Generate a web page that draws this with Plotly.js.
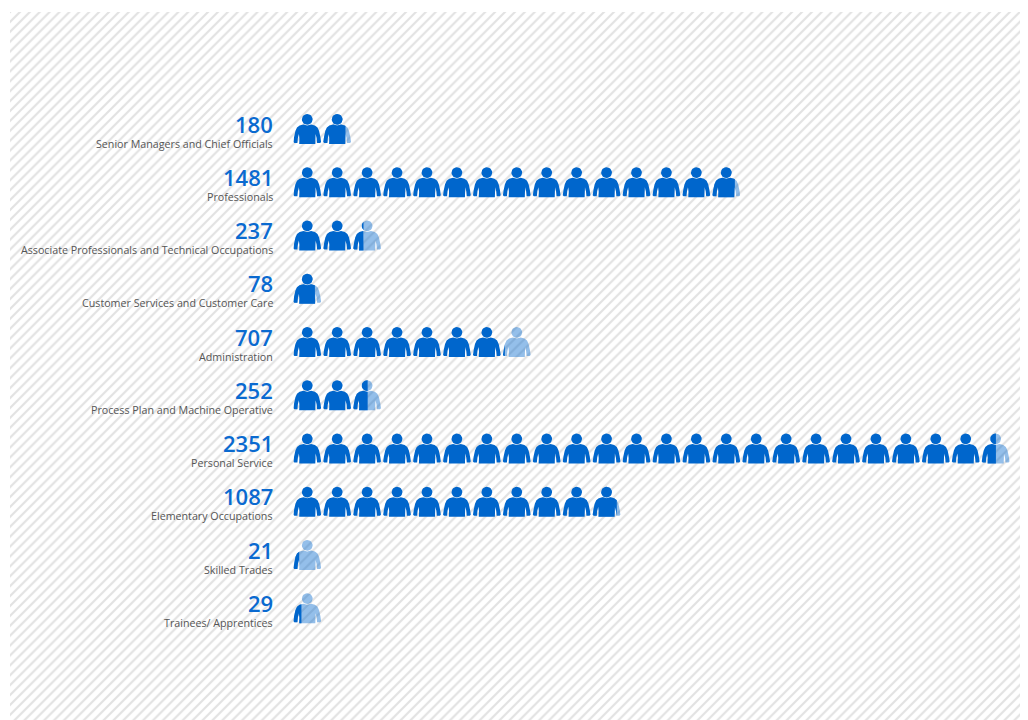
<!DOCTYPE html>
<html><head><meta charset="utf-8">
<script src="https://cdn.plot.ly/plotly-3.0.1.min.js"></script>
<style>html,body{margin:0;padding:0;background:#fff}#c{width:1028px;height:720px}</style>
</head><body><div id="c"></div>
<script>
const categories=["Senior Managers and Chief Officials","Professionals","Associate Professionals and Technical Occupations","Customer Services and Customer Care","Administration","Process Plan and Machine Operative","Personal Service","Elementary Occupations","Skilled Trades","Trainees/ Apprentices"];
const values=[180,1481,237,78,707,252,2351,1087,21,29];
const unitsPerIcon=100;
const W=1028,H=720,iconLeft=293.4,pitchX=29.93,rowTop=114,pitchY=53.25,iw=27.7,ih=30;
const BLUE='rgb(0,102,204)',LIGHT='rgba(0,102,204,0.42)';
const bodyShape=[[10,10.6],[6.2,11.4],[3.6,13.4],[2,17],[0.7,23],[0,28],[1,28.9],[4,28.9],[4.5,24],[5.5,20],[6,24.5],[5.8,30],[21.9,30],[21.7,24.5],[22.2,20],[23.2,24],[23.7,28.9],[26.7,28.9],[27.7,28],[27,23],[25.7,17],[24.1,13.4],[21.5,11.4],[17.7,10.6],[13.85,11.6]];
const headShape=[];for(let a=0;a<24;a++){const t=a/24*2*Math.PI;headShape.push([13.85+5.4*Math.cos(t),5.4+5.4*Math.sin(t)]);}
function clip(poly,maxX){const o=[];for(let i=0;i<poly.length;i++){const p=poly[i],q=poly[(i+1)%poly.length];const pi=p[0]<=maxX,qi=q[0]<=maxX;if(pi)o.push(p);if(pi!==qi){const t=(maxX-p[0])/(q[0]-p[0]);o.push([maxX,p[1]+t*(q[1]-p[1])]);}}return o;}
function addPoly(xs,ys,poly,col,row){if(!poly.length)return;const pts=poly.concat([poly[0]]);pts.forEach(p=>{xs.push(col+p[0]/pitchX);ys.push(row+p[1]/pitchY);});xs.push(null);ys.push(null);}
const dx=[],dy=[],lx=[],ly=[];
values.forEach((v,row)=>{const n=v/unitsPerIcon,full=Math.floor(n),frac=n-full;
 for(let c=0;c<full;c++){addPoly(dx,dy,bodyShape,c,row);addPoly(dx,dy,headShape,c,row);}
 if(frac>0){addPoly(lx,ly,bodyShape,full,row);addPoly(lx,ly,headShape,full,row);
  const m=frac*iw;addPoly(dx,dy,clip(bodyShape,m),full,row);addPoly(dx,dy,clip(headShape,m),full,row);}
});
const poly=(x,y,c)=>({type:'scatter',mode:'lines',x,y,xaxis:'x2',yaxis:'y2',fill:'toself',fillcolor:c,line:{width:0,color:c},hoverinfo:'skip',showlegend:false});
const bg={type:'bar',x:[0.5],y:[1],width:[1],xaxis:'x',yaxis:'y',hoverinfo:'skip',showlegend:false,marker:{color:'#fff',line:{width:0},pattern:{shape:'/',size:7,solidity:0.3,fgcolor:'#e2e2e2',bgcolor:'#ffffff'}}};
const ann=[];
categories.forEach((c,i)=>{
 ann.push({xref:'paper',yref:'paper',x:274.5/W,y:1-(123.6+pitchY*i)/H,xanchor:'right',yanchor:'middle',showarrow:false,text:String(values[i]),font:{family:'Open Sans',size:22,color:'#0a6ad0',weight:600}});
 ann.push({xref:'paper',yref:'paper',x:274.5/W,y:1-(143.6+pitchY*i)/H,xanchor:'right',yanchor:'middle',showarrow:false,text:c,font:{family:'Open Sans',size:10.7,color:'#555'}});
});
const off={visible:false,fixedrange:true};
Plotly.newPlot('c',[bg,poly(lx,ly,LIGHT),poly(dx,dy,BLUE)],{
 width:W,height:H,margin:{l:0,r:0,t:0,b:0,pad:0},paper_bgcolor:'#fff',plot_bgcolor:'rgba(0,0,0,0)',showlegend:false,bargap:0,
 xaxis:{...off,domain:[10/W,1020/W],range:[0,1]},
 yaxis:{...off,domain:[0,1-12/H],range:[0,1]},
 xaxis2:{...off,domain:[iconLeft/W,1],range:[0,(W-iconLeft)/pitchX],anchor:'y2'},
 yaxis2:{...off,domain:[0,1],range:[(H-rowTop)/pitchY,-rowTop/pitchY],anchor:'x2'},
 annotations:ann
},{displayModeBar:false,staticPlot:true});
</script></body></html>
